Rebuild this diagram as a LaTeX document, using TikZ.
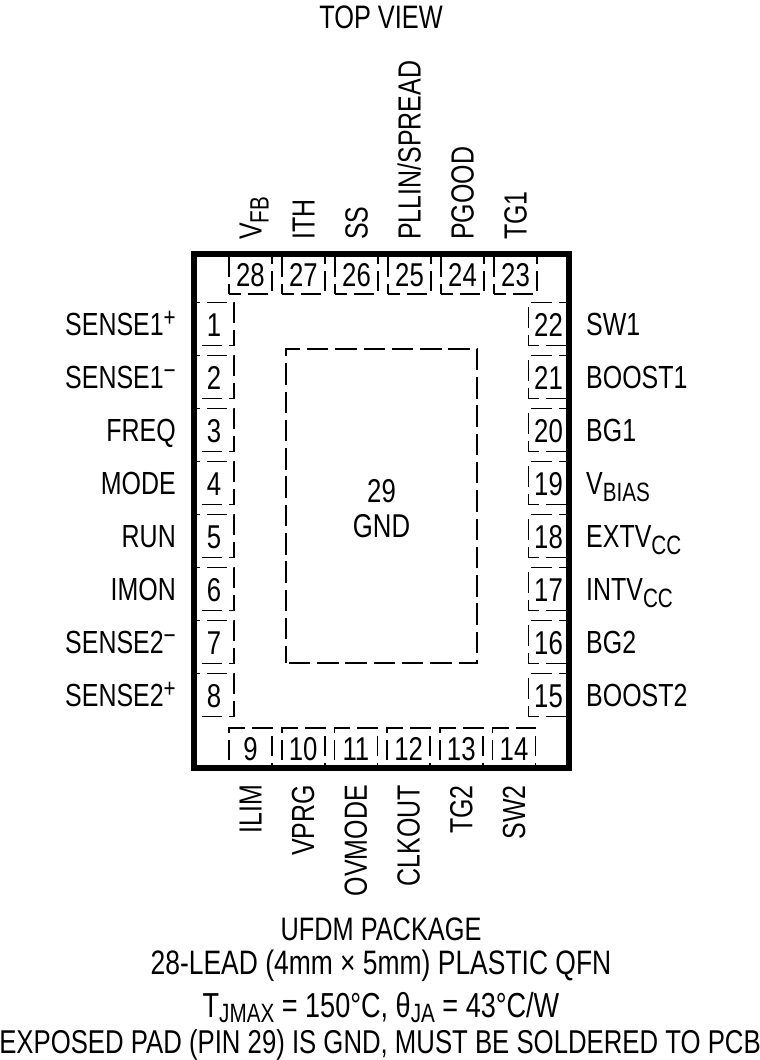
\documentclass[tikz,border=0pt]{standalone}
\usepackage{fontspec}
\setmainfont[FakeStretch=0.78]{Liberation Sans}
\newcommand{\subtxt}[1]{\smash{\raisebox{-7pt}{\fontsize{26.5}{26.5}\selectfont #1}}}
\newcommand{\capsub}[1]{\smash{\raisebox{-5pt}{\fontsize{26.5}{26.5}\selectfont #1}}}
\newcommand{\suptxt}[1]{\smash{\raisebox{8.5pt}{\fontsize{26.5}{26.5}\selectfont #1}}}
\tikzset{
	pkgtext/.style = {font=\fontsize{32}{32}\selectfont, inner sep=0pt, text height=22pt, text depth=0pt},
	pinbox/.style = {draw, dash pattern=on 20.5pt off 7pt, line width=1.6pt, inner sep=0pt, font=\fontsize{33}{33}\selectfont, text height=25pt, text depth=0pt},
	sidepin/.style = {pinbox, minimum width=40pt, minimum height=43pt},
	endpin/.style = {pinbox, minimum width=43pt, minimum height=40pt},
}
\begin{document}
\begin{tikzpicture}[x=1pt, y=-1pt]
	\useasboundingbox[fill=white] (0, 0) rectangle (760, 1060);

	%	left pins
	\foreach \n/\lab [count=\i from 0] in {1/SENSE1\suptxt{+}, 2/SENSE1\suptxt{−}, 3/FREQ, 4/MODE, 5/RUN, 6/IMON, 7/SENSE2\suptxt{−}, 8/SENSE2\suptxt{+}}
		\node[sidepin, dash phase=20pt] (pin\n) at (214, 324 + 53*\i) {\n}
			(pin\n.center) ++(-38, 0) node[pkgtext, anchor=east] (lab\n) {\lab};

	%	right pins
	\foreach \n/\lab [count=\i from 0] in {22/SW1, 21/BOOST1, 20/BG1, 19/V\subtxt{BIAS}, 18/EXTV\subtxt{CC}, 17/INTV\subtxt{CC}, 16/BG2, 15/BOOST2}
		\node[sidepin, dash phase=10pt] (pin\n) at (548.5, 324 + 53*\i) {\n}
			(pin\n.center) ++(37.5, 0) node[pkgtext, anchor=west] (lab\n) {\lab};

	%	top pins
	\foreach \n/\lab [count=\i from 0] in {28/V\subtxt{FB}, 27/ITH, 26/SS, 25/{PLLIN/SPREAD}, 24/PGOOD, 23/TG1}
		\node[endpin, dash phase=9pt] (pin\n) at (250.5 + 53*\i, 274) {\n}
			(pin\n.center) ++(0, -34) node[pkgtext, rotate=90, anchor=west] (lab\n) {\lab};

	%	bottom pins
	\foreach \n/\lab [count=\i from 0] in {9/ILIM, 10/VPRG, 11/OVMODE, 12/CLKOUT, 13/TG2, 14/SW2}
		\node[endpin] (pin\n) at (250.5 + 52.7*\i, 748) {\n}
			(pin\n.center) ++(0, 37) node[pkgtext, rotate=90, anchor=east] (lab\n) {\lab};

	%	exposed pad
	\node[draw, line width=1.6pt, inner sep=0pt, minimum width=191pt, minimum height=314pt, dash pattern=on 21.5pt off 6.8pt, dash phase=25.6pt, align=center, font=\fontsize{33}{35}\selectfont] (pad) at (381.5, 506) {\rule{0pt}{29pt}29\\GND};

	%	package
	\draw[line width=5.5pt] (194, 254) rectangle (569, 768);

	%	captions
	\node[pkgtext, font=\fontsize{32.5}{32.5}\selectfont] (topview) at (381, 17.5) {TOP VIEW};
	\node[pkgtext, font=\fontsize{32.5}{32.5}\selectfont] (pkgname) at (381, 929) {UFDM PACKAGE};
	\node[pkgtext, font=\fontsize{33.9}{33.9}\selectfont] (pkgtype) at (381, 963.5) {28-LEAD (4mm × 5mm) PLASTIC QFN};
	\node[pkgtext, font=\fontsize{34.7}{34.7}\selectfont, text height=24pt] (thermal) at (381, 1005) {T\capsub{JMAX} = 150°C, θ\capsub{JA} = 43°C/W};
	\node[pkgtext, font=\fontsize{33}{33}\selectfont] (exposed) at (380, 1042.5) {EXPOSED PAD (PIN 29) IS GND, MUST BE SOLDERED TO PCB};
\end{tikzpicture}
\end{document}
